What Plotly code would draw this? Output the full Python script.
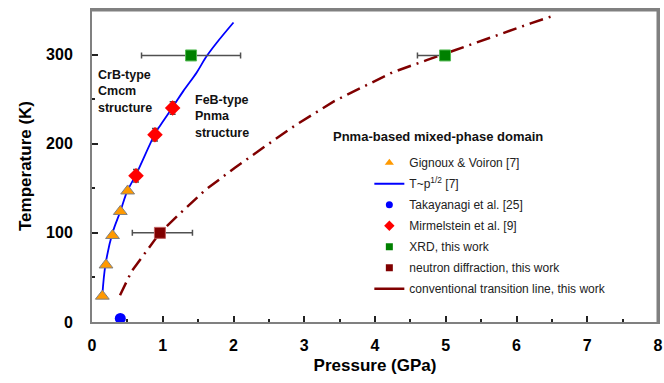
import plotly.graph_objects as go

# Gignoux & Voiron [7]
gv_p = [0.146, 0.198, 0.29, 0.40, 0.504]
gv_t = [29, 64, 97, 124, 147]

# T ~ p^1/2 curve
fit_p = [0.146, 0.19, 0.29, 0.40, 0.50, 0.62, 0.89, 0.96, 1.14, 1.29, 1.48, 1.61, 1.76, 2.0]
fit_t = [30, 64, 100, 124, 147, 165, 211, 220, 241, 259, 280, 297, 313, 336]

# Takayanagi et al. [25]
tak_p = [0.40]
tak_t = [4]

# Mirmelstein et al. [9]
mir_p = [0.622, 0.89, 1.14]
mir_t = [164, 210, 240]
mir_err = [7, 7, 7]

# XRD, this work
xrd_p = [1.40, 4.99]
xrd_t = [299, 299]
xrd_err_plus = [0.70, 0.0]
xrd_err_minus = [0.70, 0.39]

# neutron diffraction, this work
neu_p = [0.96]
neu_t = [100]
neu_err_plus = [0.46]
neu_err_minus = [0.39]

# conventional transition line, this work
conv_p = [0.396, 0.56, 0.96, 1.22, 1.60, 2.02, 2.445, 2.88, 3.43, 3.79, 4.245, 4.74, 5.23, 5.72, 6.2, 6.5]
conv_t = [30, 57, 100, 120, 148, 173, 197, 221, 248, 262, 280, 294, 308, 322, 335, 343]

x_range = [0, 8]
y_range = [0, 350]

ORANGE = "#FF9900"
BLUE = "#0000FF"
RED = "#FF0000"
GREEN = "#008000"
DARKRED = "#800000"
ERR = "#505050"
FRAME = "#808080"

fig = go.Figure()

# top and right edges of the box, following the axis ranges
fig.add_trace(go.Scatter(x=[x_range[0], x_range[1], x_range[1]],
                         y=[y_range[1], y_range[1], y_range[0]],
                         mode="lines", showlegend=False, hoverinfo="skip", cliponaxis=False,
                         line=dict(color=FRAME, width=3)))

# data traces (legend drawn by small dummy traces below)
fig.add_trace(go.Scatter(x=conv_p, y=conv_t, mode="lines", showlegend=False,
                         line=dict(color=DARKRED, width=2.5, dash="14px,6px,2px,6px")))
fig.add_trace(go.Scatter(x=fit_p, y=fit_t, mode="lines", showlegend=False,
                         line=dict(color=BLUE, width=1.8, shape="spline", smoothing=1.0)))
fig.add_trace(go.Scatter(x=gv_p, y=gv_t, mode="markers", showlegend=False,
                         marker=dict(symbol="triangle-up", size=12, color=ORANGE,
                                     line=dict(color="#808080", width=1))))
fig.add_trace(go.Scatter(x=tak_p, y=tak_t, mode="markers", showlegend=False,
                         marker=dict(symbol="circle", size=11, color=BLUE)))
fig.add_trace(go.Scatter(x=mir_p, y=mir_t, mode="markers", showlegend=False,
                         error_y=dict(type="data", array=mir_err, color=ERR, thickness=1.5, width=3),
                         marker=dict(symbol="diamond", size=12, color=RED)))
fig.add_trace(go.Scatter(x=xrd_p, y=xrd_t, mode="markers", showlegend=False,
                         error_x=dict(type="data", symmetric=False, array=xrd_err_plus,
                                      arrayminus=xrd_err_minus, color=ERR, thickness=1.5, width=3),
                         marker=dict(symbol="square", size=11, color=GREEN,
                                     line=dict(color="#55bb55", width=1))))
fig.add_trace(go.Scatter(x=neu_p, y=neu_t, mode="markers", showlegend=False,
                         error_x=dict(type="data", symmetric=False, array=neu_err_plus,
                                      arrayminus=neu_err_minus, color=ERR, thickness=1.5, width=3),
                         marker=dict(symbol="square", size=11, color=DARKRED,
                                     line=dict(color="#c06060", width=1))))

# legend entries
legend_items = [
    ("Gignoux &amp; Voiron [7]", "markers", dict(symbol="triangle-up", size=8, color=ORANGE), None),
    ("T~p<sup>1/2</sup> [7]", "lines", None, dict(color=BLUE, width=2)),
    ("Takayanagi et al. [25]", "markers", dict(symbol="circle", size=7, color=BLUE), None),
    ("Mirmelstein et al. [9]", "markers", dict(symbol="diamond", size=8, color=RED), None),
    ("XRD, this work", "markers", dict(symbol="square", size=7, color=GREEN), None),
    ("neutron diffraction, this work", "markers", dict(symbol="square", size=7, color=DARKRED), None),
    ("conventional transition line, this work", "lines", None, dict(color=DARKRED, width=2.5)),
]
for i, (name, mode, mk, ln) in enumerate(legend_items):
    kw = {}
    if mk:
        kw["marker"] = mk
    if ln:
        kw["line"] = ln
    fig.add_trace(go.Scatter(x=[None], y=[None], mode=mode, name=name,
                             legendgroup=f"g{i}", **kw))

note_font = dict(family="Liberation Sans, Arial", size=12.5, color="#111111")
fig.add_annotation(x=0.05, y=287, xref="x", yref="y", xanchor="left", yanchor="top",
                   text="<b>CrB-type<br>Cmcm<br>structure</b>", showarrow=False, align="left",
                   font=note_font)
fig.add_annotation(x=1.43, y=259, xref="x", yref="y", xanchor="left", yanchor="top",
                   text="<b>FeB-type<br>Pnma<br>structure</b>", showarrow=False, align="left",
                   font=note_font)
fig.add_annotation(x=3.38, y=208, xref="x", yref="y", xanchor="left", yanchor="middle",
                   text="<b>Pnma-based mixed-phase domain</b>", showarrow=False,
                   font=dict(family="Liberation Sans, Arial", size=13, color="#111111"))

axis_common = dict(showline=True, linecolor=FRAME, linewidth=2, mirror=True,
                   showgrid=False, zeroline=False, ticks="inside", ticklen=6,
                   tickcolor="#222222", tickwidth=1.5, automargin=False,
                   tickfont=dict(family="Liberation Sans, Arial", size=16, color="#000000", weight="bold"),
                   title_font=dict(family="Liberation Sans, Arial", size=17, color="#000000", weight="bold"))

fig.update_xaxes(axis_common, range=x_range, dtick=1, ticklabelstandoff=8,
                 minor=dict(ticks="inside", ticklen=3, dtick=0.5, tickcolor="#222222"),
                 title_text="Pressure (GPa)", title_standoff=6)
fig.update_yaxes(axis_common, range=y_range, tickvals=[0, 100, 200, 300], ticklabelstandoff=14,
                 minor=dict(ticks="inside", ticklen=3, tickvals=[50, 150, 250], tickcolor="#222222"),
                 title_text="Temperature (K)", title_standoff=10)

fig.update_layout(
    width=664, height=383,
    margin=dict(l=92, r=6, t=10, b=61),
    plot_bgcolor="white", paper_bgcolor="white",
    legend=dict(x=0.49, y=0.557, xanchor="left", yanchor="top",
                bgcolor="rgba(0,0,0,0)", tracegroupgap=2,
                font=dict(family="Liberation Sans, Arial", size=12, color="#222222")),
)

# page margin off so the figure sits at the window's corner
fig.write_html("out.html", config={"displayModeBar": False},
               post_script="document.body.style.margin='0';")
